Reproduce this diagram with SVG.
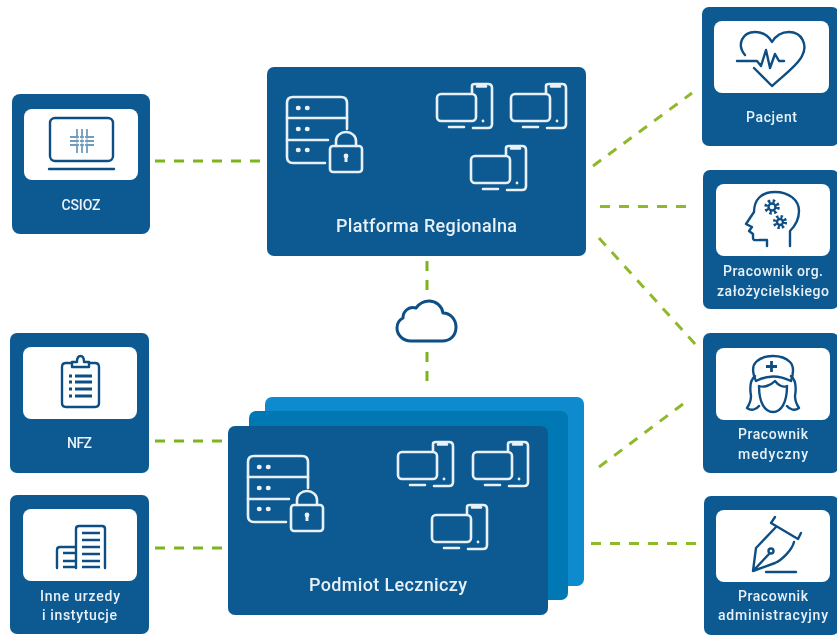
<svg xmlns="http://www.w3.org/2000/svg" width="837" height="635" viewBox="0 0 837 635">
<style>
.card{fill:#0a5a92}
.in{fill:#fff}
.ic{fill:none;stroke:#0d4f85;stroke-width:2.4;stroke-linecap:round;stroke-linejoin:round}
.wi{fill:none;stroke:#e9f0f6;stroke-width:2.6;stroke-linecap:round;stroke-linejoin:round}
.t{font-family:Roboto,"Liberation Sans",sans-serif;font-weight:500;font-size:14px;fill:#e9f0f6;text-anchor:middle}
.tl{font-size:18px}
.c{fill:none;stroke:#8fb92c;stroke-width:3;stroke-dasharray:10 9}
.g{stroke:#7db41e}
</style>
<defs>
<filter id="soft" x="0" y="0" width="100%" height="100%" filterUnits="userSpaceOnUse"><feGaussianBlur stdDeviation="0.55"/></filter>
<g id="srv">
<path class="wi" d="M347 129V103Q347 97 341 97H293Q287 97 287 103V157Q287 163 293 163H325"/>
<path class="wi" d="M287 118H347M287 140H328"/>
<path d="M298 108h.5M307 108h.5M298 129h.5M307 129h.5M298 150h.5M307 150h.5" stroke="#e9f0f6" stroke-width="4.500" stroke-linecap="round"/>
<rect class="wi" x="330" y="146" width="32" height="26" rx="3"/>
<path class="wi" d="M336 146V141A10 9 0 0 1 356 141V146"/>
<path d="M346 155v7" stroke="#e9f0f6" stroke-width="3"/><circle cx="346" cy="156" r="2.400" fill="#e9f0f6"/>
</g>
<g id="dev">
<rect class="wi" x="1" y="11" width="39" height="27" rx="4"/>
<path class="wi" d="M36 10V3Q36 1 39 1H52Q56 1 56 5V41Q56 45 52 45H37M41 3.500h9M13 44H28"/>
<circle cx="47" cy="38" r="1.400" fill="#e9f0f6"/>
</g>
</defs>
<rect width="837" height="635" fill="#fff"/>
<g filter="url(#soft)">
<g id="connectors">
<path class="c g" d="M155 161H260"/>
<path class="c" d="M593 166L692 93"/>
<path class="c" d="M600 206.500H686"/>
<path class="c" d="M599 238L696 345"/>
<path class="c" d="M599 467L683 404"/>
<path class="c" d="M591 543.500H696"/>
<path class="c g" d="M155 441H222"/>
<path class="c g" d="M155 548H222"/>
<path class="c g" d="M427 261V291"/>
<path class="c g" d="M427 352V381"/>
</g>
<g id="csioz">
<rect class="card" x="12" y="94" width="138" height="140" rx="8"/>
<rect class="in" x="24" y="109" width="114" height="71" rx="8"/>
<rect class="ic" x="50" y="118" width="63" height="43" rx="5"/>
<path class="ic" d="M49 169H114"/>
<path d="M77 129V153M82 129V153M87 129V153M70 137H94M70 141H94M70 145H94" fill="none" stroke="#6f9cbd" stroke-width="1.800"/>
<path d="M79.500 129V153M84.500 129V153M70 139H94M70 143H94" fill="none" stroke="#fff" stroke-width="1.200"/>
<text class="t" x="81" y="210" textLength="39" lengthAdjust="spacing">CSIOZ</text>
</g>
<g id="platforma">
<rect class="card" x="267" y="67" width="319" height="189" rx="7"/>
<use href="#srv"/>
<use href="#dev" x="436" y="83"/>
<use href="#dev" x="510" y="83"/>
<use href="#dev" x="470" y="145"/>
<text class="t tl" x="426.500" y="232" textLength="181" lengthAdjust="spacing">Platforma Regionalna</text>
</g>
<g id="cloud">
<path d="M411 341H442C451 341 456 335 456 327C456 319 450 313 443 313C442 306 436 301 429 301C423 301 419 304 416 308C409 306 403 311 403 318C399 320 397 324 397 328C397 335 403 341 411 341Z" fill="none" stroke="#0d4f85" stroke-width="3" stroke-linejoin="round"/>
</g>
<g id="podmiot">
<rect x="265" y="397" width="319" height="189" rx="7" fill="#0e8bce"/>
<rect x="249" y="411" width="319" height="189" rx="7" fill="#0678b4"/>
<rect class="card" x="228" y="426" width="320" height="189" rx="7"/>
<use href="#srv" x="-39" y="359"/>
<use href="#dev" x="397" y="441"/>
<use href="#dev" x="472" y="441"/>
<use href="#dev" x="431" y="504"/>
<text class="t tl" x="388" y="591" textLength="158" lengthAdjust="spacing">Podmiot Leczniczy</text>
</g>
<g id="pacjent">
<rect class="card" x="702" y="7" width="137" height="139" rx="7"/>
<rect class="in" x="714" y="21" width="115" height="72" rx="8"/>
<path class="ic" d="M745 55C736 44 743 32 755 32C763 32 769 37 772 42C775 37 781 32 789 32C802 32 808 45 802 56C798 65 785 74 772 86L754 68"/>
<path class="ic" d="M737 61H757L761 66L766 50L770 68L775 54L779 61H784"/>
<text class="t" x="771.500" y="122" textLength="51" lengthAdjust="spacing">Pacjent</text>
</g>
<g id="org">
<rect class="card" x="703" y="170" width="136" height="139" rx="7"/>
<rect class="in" x="716" y="184" width="114" height="72" rx="8"/>
<path class="ic" d="M790 246V231C796 225 799 219 799 211C799 200 789 192 775 192C761 192 754 200 754 212L746 224L752 227L749 231L753 234V238C753 241 756 240 760 240L767 240V246"/>
<circle cx="772" cy="207" r="6" fill="none" stroke="#0d4f85" stroke-width="3.500" stroke-dasharray="2.400 2.300"/>
<circle class="ic" cx="772" cy="207" r="3.500" stroke-width="1.800"/>
<circle cx="780" cy="222" r="5.500" fill="none" stroke="#0d4f85" stroke-width="3.200" stroke-dasharray="2.300 2"/>
<circle class="ic" cx="780" cy="222" r="3" stroke-width="1.800"/>
<text class="t" x="773" y="276" textLength="100" lengthAdjust="spacing">Pracownik org.</text>
<text class="t" x="773" y="296" textLength="112" lengthAdjust="spacing">założycielskiego</text>
</g>
<g id="medyczny">
<rect class="card" x="703" y="333" width="136" height="140" rx="7"/>
<rect class="in" x="716" y="348" width="114" height="72" rx="8"/>
<path class="ic" d="M756 381C752 372 752 366 756 362C764 354 782 354 790 362C794 366 794 372 791 381C779 375 767 375 756 381Z"/>
<path class="ic" d="M755 376C749 381 750 390 751 396C751 402 749 405 747 408C751 411 756 410 759 406M791 376C797 381 796 390 795 396C795 402 797 405 799 408C795 411 790 410 787 406"/>
<path class="ic" d="M759 386C759 403 765 412 773 412C781 412 787 403 787 386C783 388 778 385 775 381C771 385 764 388 759 386Z"/>
<path d="M771.500 361V372M766 366.500H777" fill="none" stroke="#0d4f85" stroke-width="2.800"/>
<text class="t" x="773" y="439" textLength="70" lengthAdjust="spacing">Pracownik</text>
<text class="t" x="773" y="459" textLength="70" lengthAdjust="spacing">medyczny</text>
</g>
<g id="administracyjny">
<rect class="card" x="704" y="496" width="135" height="139" rx="7"/>
<rect class="in" x="716" y="510" width="114" height="72" rx="8"/>
<path class="ic" d="M775 517L771 523L798 539L801 533"/>
<path class="ic" d="M776 527L756 548L753 571L775 563C782 560 792 550 794 542M753 571L769 554"/>
<circle class="ic" cx="771" cy="551" r="2.500"/>
<path class="ic" d="M766 572H796"/>
<text class="t" x="773" y="601" textLength="70" lengthAdjust="spacing">Pracownik</text>
<text class="t" x="773" y="620" textLength="110" lengthAdjust="spacing">administracyjny</text>
</g>
<g id="nfz">
<rect class="card" x="10" y="333" width="139" height="140" rx="7"/>
<rect class="in" x="23" y="347" width="114" height="72" rx="8"/>
<path class="ic" d="M72 363H66Q62 363 62 367V403Q62 407 66 407H95Q99 407 99 403V367Q99 363 95 363H89"/>
<path class="ic" d="M72 367V362H77C77 354 84 354 84 362H89V367Z"/>
<path d="M69 376h3M75 376H92M69 382h3M75 382H92M69 389h3M75 389H92M69 396h3M75 396H92" fill="none" stroke="#0d4f85" stroke-width="2.800"/>
<text class="t" x="79.500" y="448" textLength="25" lengthAdjust="spacing">NFZ</text>
</g>
<g id="inne">
<rect class="card" x="10" y="495" width="139" height="139" rx="7"/>
<rect class="in" x="23" y="509" width="114" height="72" rx="8"/>
<path class="ic" d="M76 568V529Q76 526 79 526H102Q105 526 105 529V568"/>
<path class="ic" d="M75 547H60Q57 547 57 550V568"/>
<path d="M82 533H100M82 540H100M82 547H100M82 554H100M82 561H100M82 567H100M63 553H75M63 561H75M63 567H75" fill="none" stroke="#0d4f85" stroke-width="2.600"/>
<text class="t" x="80" y="601" textLength="80" lengthAdjust="spacing">Inne urzedy</text>
<text class="t" x="79.500" y="620" textLength="75" lengthAdjust="spacing">i instytucje</text>
</g>
</g>
</svg>
